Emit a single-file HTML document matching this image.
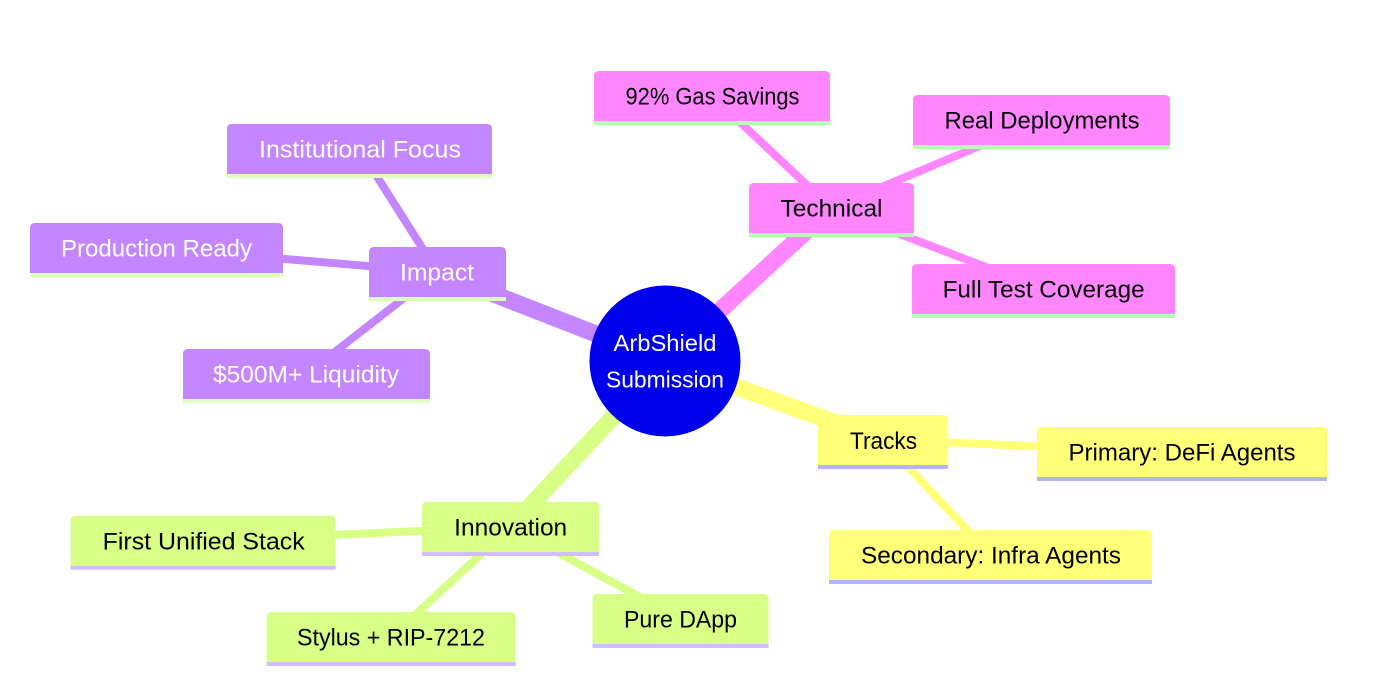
<!DOCTYPE html>
<html><head><meta charset="utf-8"><style>
html,body{margin:0;padding:0;background:#fff;}
svg{display:block;}
text{font-family:"Liberation Sans",sans-serif;font-size:24px;text-anchor:middle;}
</style></head><body>
<svg width="1383" height="700" viewBox="0 0 1383 700" xmlns="http://www.w3.org/2000/svg">
<rect width="1383" height="700" fill="#fff"/>
<!-- child edges -->
<g stroke-width="8" stroke-linecap="butt">
<line x1="831.5" y1="208" x2="712" y2="96" stroke="#ff86ff"/>
<line x1="831.5" y1="208" x2="1041.5" y2="120" stroke="#ff86ff"/>
<line x1="831.5" y1="208" x2="1043.5" y2="289" stroke="#ff86ff"/>
<line x1="437.5" y1="272" x2="359.5" y2="149" stroke="#c386ff"/>
<line x1="437.5" y1="272" x2="156.5" y2="248" stroke="#c386ff"/>
<line x1="437.5" y1="272" x2="306.5" y2="374" stroke="#c386ff"/>
<line x1="883" y1="440" x2="1182" y2="452" stroke="#ffff78"/>
<line x1="883" y1="440" x2="990.5" y2="555" stroke="#ffff78"/>
<line x1="510.5" y1="527" x2="203" y2="540.7" stroke="#d7ff86"/>
<line x1="510.5" y1="527" x2="391" y2="637" stroke="#d7ff86"/>
<line x1="510.5" y1="527" x2="680.5" y2="619" stroke="#d7ff86"/>
</g>
<!-- root edges -->
<g stroke-width="17">
<line x1="665" y1="361" x2="831.5" y2="208" stroke="#ff86ff"/>
<line x1="665" y1="361" x2="437.5" y2="272" stroke="#c386ff"/>
<line x1="665" y1="361" x2="883" y2="440" stroke="#ffff78"/>
<line x1="665" y1="361" x2="510.5" y2="527" stroke="#d7ff86"/>
</g>

<!-- Pink nodes -->
<path d="M594 121V76Q594 71 599 71H825Q830 71 830 76V121Z" fill="#ff86ff"/>
<rect x="594" y="121" width="236" height="4" fill="#b3ffb3"/>
<text x="712.5" y="104.7" textLength="174" lengthAdjust="spacingAndGlyphs" fill="#000">92% Gas Savings</text>

<path d="M913 145V100Q913 95 918 95H1165Q1170 95 1170 100V145Z" fill="#ff86ff"/>
<rect x="913" y="145" width="257" height="4" fill="#b3ffb3"/>
<text x="1042" y="128.7" textLength="195" lengthAdjust="spacingAndGlyphs" fill="#000">Real Deployments</text>

<path d="M749 233V188Q749 183 754 183H909Q914 183 914 188V233Z" fill="#ff86ff"/>
<rect x="749" y="233" width="165" height="4" fill="#b3ffb3"/>
<text x="831.5" y="216.7" textLength="102" lengthAdjust="spacingAndGlyphs" fill="#000">Technical</text>

<path d="M912 314V269Q912 264 917 264H1170Q1175 264 1175 269V314Z" fill="#ff86ff"/>
<rect x="912" y="314" width="263" height="4" fill="#b3ffb3"/>
<text x="1043.6" y="297.7" textLength="202" lengthAdjust="spacingAndGlyphs" fill="#000">Full Test Coverage</text>

<!-- Purple nodes -->
<path d="M227 174V129Q227 124 232 124H487Q492 124 492 129V174Z" fill="#c386ff"/>
<rect x="227" y="174" width="265" height="4" fill="#dcffc0"/>
<text x="360" y="157.7" textLength="202" lengthAdjust="spacingAndGlyphs" fill="#fff">Institutional Focus</text>

<path d="M30 273V228Q30 223 35 223H278Q283 223 283 228V273Z" fill="#c386ff"/>
<rect x="30" y="273" width="253" height="4" fill="#dcffc0"/>
<text x="156.5" y="256.7" textLength="191" lengthAdjust="spacingAndGlyphs" fill="#fff">Production Ready</text>

<path d="M369 297V252Q369 247 374 247H501Q506 247 506 252V297Z" fill="#c386ff"/>
<rect x="369" y="297" width="137" height="4" fill="#dcffc0"/>
<text x="437" y="280.7" textLength="74" lengthAdjust="spacingAndGlyphs" fill="#fff">Impact</text>

<path d="M183 399V354Q183 349 188 349H425Q430 349 430 354V399Z" fill="#c386ff"/>
<rect x="183" y="399" width="247" height="4" fill="#dcffc0"/>
<text x="306" y="382.7" textLength="186" lengthAdjust="spacingAndGlyphs" fill="#fff">$500M+ Liquidity</text>

<!-- Yellow nodes -->
<path d="M818 465V420Q818 415 823 415H943Q948 415 948 420V465Z" fill="#ffff78"/>
<rect x="818" y="465" width="130" height="4" fill="#b3b3ff"/>
<text x="883.5" y="449" textLength="67" lengthAdjust="spacingAndGlyphs" fill="#000">Tracks</text>

<path d="M1037 477V432Q1037 427 1042 427H1322Q1327 427 1327 432V477Z" fill="#ffff78"/>
<rect x="1037" y="477" width="290" height="4" fill="#b3b3ff"/>
<text x="1182" y="460.7" textLength="227" lengthAdjust="spacingAndGlyphs" fill="#000">Primary: DeFi Agents</text>

<path d="M829 580V535Q829 530 834 530H1147Q1152 530 1152 535V580Z" fill="#ffff78"/>
<rect x="829" y="580" width="323" height="4" fill="#b3b3ff"/>
<text x="991" y="563.7" textLength="260" lengthAdjust="spacingAndGlyphs" fill="#000">Secondary: Infra Agents</text>

<!-- Green nodes -->
<path d="M422 552V507Q422 502 427 502H594Q599 502 599 507V552Z" fill="#d7ff86"/>
<rect x="422" y="552" width="177" height="4" fill="#d0bcff"/>
<text x="510.7" y="535.7" textLength="113" lengthAdjust="spacingAndGlyphs" fill="#000">Innovation</text>

<path d="M70.6 565.7V520.7Q70.6 515.7 75.6 515.7H330.6Q335.6 515.7 335.6 520.7V565.7Z" fill="#d7ff86"/>
<rect x="70.6" y="565.7" width="265" height="4" fill="#d0bcff"/>
<text x="203.7" y="549.4" textLength="202" lengthAdjust="spacingAndGlyphs" fill="#000">First Unified Stack</text>

<path d="M266.6 662V617Q266.6 612 271.6 612H510.6Q515.6 612 515.6 617V662Z" fill="#d7ff86"/>
<rect x="266.6" y="662" width="249" height="4" fill="#d0bcff"/>
<text x="391" y="645.7" textLength="188" lengthAdjust="spacingAndGlyphs" fill="#000">Stylus + RIP-7212</text>

<path d="M592.6 644V599Q592.6 594 597.6 594H763.6Q768.6 594 768.6 599V644Z" fill="#d7ff86"/>
<rect x="592.6" y="644" width="176" height="4" fill="#d0bcff"/>
<text x="680.5" y="627.7" textLength="113" lengthAdjust="spacingAndGlyphs" fill="#000">Pure DApp</text>

<!-- Root -->
<circle cx="665" cy="361" r="75.5" fill="#0000ec"/>
<text x="665" y="351" font-size="23" textLength="103" lengthAdjust="spacingAndGlyphs" fill="#fff" style="font-size:23px">ArbShield</text>
<text x="665" y="387.3" font-size="23" textLength="118" lengthAdjust="spacingAndGlyphs" fill="#fff" style="font-size:23px">Submission</text>
</svg>
</body></html>
